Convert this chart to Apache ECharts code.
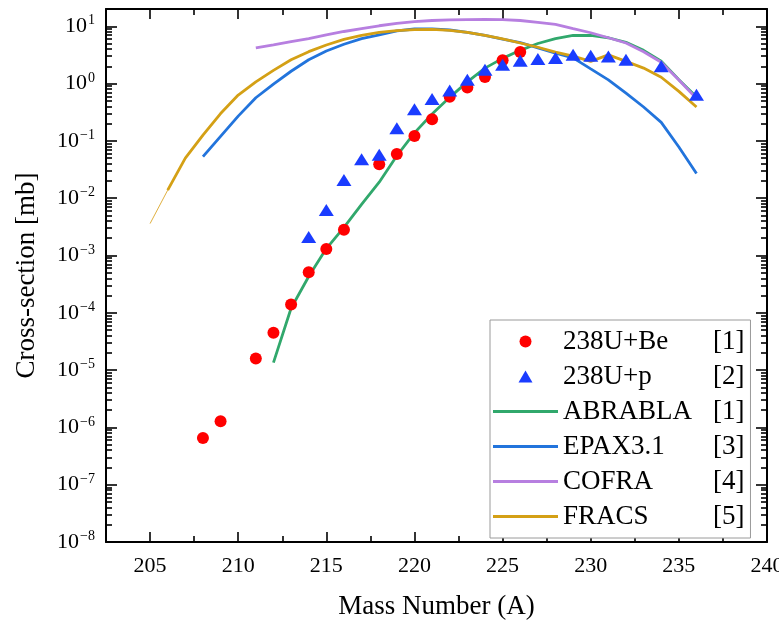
<!DOCTYPE html>
<html>
<head>
<meta charset="utf-8">
<script src="https://cdn.jsdelivr.net/npm/echarts@6/dist/echarts.min.js"></script>
<style>
html,body{margin:0;padding:0;background:#fff;}
#chart{width:779px;height:620px;}
</style>
</head>
<body>
<div id="chart"></div>
<script>
// ---- data ----
const beMass = [208, 209, 211, 212, 213, 214, 215, 216, 218, 219, 220, 221, 222, 223, 224, 225, 226];
const beXS   = [6.5e-7, 1.28e-6, 1.6e-5, 4.5e-5, 1.4e-4, 5.1e-4, 1.3e-3, 2.8e-3, 0.039, 0.059, 0.122, 0.239, 0.59, 0.855, 1.3, 2.54, 3.56];

const pMass = [214, 215, 216, 217, 218, 219, 220, 221, 222, 223, 224, 225, 226, 227, 228, 229, 230, 231, 232, 234, 236];
const pXS   = [2.1e-3, 6.2e-3, 0.0207, 0.048, 0.057, 0.166, 0.357, 0.535, 0.76, 1.16, 1.74, 2.13, 2.5, 2.69, 2.8, 3.19, 3.07, 2.98, 2.61, 2.0, 0.64];

const abraMass = [212, 213, 214, 215, 216, 217, 218, 219, 220, 221, 222, 223, 224, 225, 226, 227, 228, 229, 230, 231, 232, 233, 234, 235, 236];
const abraXS   = [1.35e-5, 1.2e-4, 4.3e-4, 1.32e-3, 3.1e-3, 7.8e-3, 0.019, 0.055, 0.138, 0.295, 0.575, 1.07, 1.86, 2.75, 3.8, 5.0, 6.1, 6.9, 6.9, 6.3, 5.25, 3.8, 2.45, 1.17, 0.58];

const epaxMass = [208, 209, 210, 211, 212, 213, 214, 215, 216, 217, 218, 219, 220, 221, 222, 223, 224, 225, 226, 227, 228, 229, 230, 231, 232, 233, 234, 235, 236];
const epaxXS   = [0.053, 0.12, 0.27, 0.565, 0.98, 1.64, 2.6, 3.7, 4.85, 6.1, 7.1, 8.3, 8.95, 9.0, 8.6, 7.85, 6.9, 5.95, 5.2, 4.2, 3.4, 2.8, 1.8, 1.16, 0.68, 0.39, 0.21, 0.078, 0.027];

const cofraMass = [211, 212, 213, 214, 215, 216, 217, 218, 219, 220, 221, 222, 223, 224, 225, 226, 227, 228, 229, 230, 231, 232, 233, 234, 235, 236];
const cofraXS   = [4.2, 4.75, 5.4, 6.1, 7.1, 8.1, 9.1, 10.2, 11.2, 12.0, 12.6, 12.9, 13.1, 13.2, 13.0, 12.6, 11.7, 10.8, 9.1, 7.7, 6.3, 5.1, 3.6, 2.35, 1.15, 0.55];

const fracsMass = [206, 207, 208, 209, 210, 211, 212, 213, 214, 215, 216, 217, 218, 219, 220, 221, 222, 223, 224, 225, 226, 227, 228, 229, 230, 231, 232, 233, 234, 235, 236];
const fracsXS   = [0.0138, 0.05, 0.126, 0.3, 0.63, 1.07, 1.7, 2.6, 3.6, 4.7, 5.9, 6.9, 7.8, 8.4, 8.7, 8.8, 8.5, 7.85, 6.9, 6.0, 5.1, 4.3, 3.55, 3.0, 2.44, 3.16, 2.44, 1.86, 1.29, 0.73, 0.39];
const fracsTailMass = [205, 206];
const fracsTailXS   = [3.6e-3, 0.0138];

const seriesNames = ['238U+Be', '238U+p', 'ABRABLA', 'EPAX3.1', 'COFRA', 'FRACS'];
const seriesRefs  = ['[1]', '[2]', '[1]', '[3]', '[4]', '[5]'];

const xMajorTicks = [205, 210, 215, 220, 225, 230, 235, 240];
const xMinorTicks = [207.5, 212.5, 217.5, 222.5, 227.5, 232.5, 237.5];
const yExponents  = [-8, -7, -6, -5, -4, -3, -2, -1, 0, 1];

// ---- build ----
const FONT = 'Liberation Serif';
const pairs = (xs, ys) => xs.map((x, i) => [x, ys[i]]);
const yMajor = yExponents.map(e => Math.pow(10, e));
const yMinor = [];
yExponents.forEach(e => { for (let k = 2; k <= 9; k++) { const v = k * Math.pow(10, e); if (v <= 20) yMinor.push(v); } });

function xAxisDef(pos, major) {
  return {
    type: 'value', min: 202.5, max: 240, position: pos,
    axisLine: { show: major, onZero: false, lineStyle: { color: '#000', width: 2 } },
    axisTick: { show: true, inside: true, length: major ? 10 : 6, customValues: major ? xMajorTicks : xMinorTicks,
                lineStyle: { color: '#000', width: 1.6 } },
    axisLabel: (major && pos === 'bottom') ? { show: true, customValues: xMajorTicks, color: '#000', fontFamily: FONT, fontSize: 22, margin: 13 } : { show: false },
    splitLine: { show: false },
    name: (major && pos === 'bottom') ? 'Mass Number (A)' : '',
    nameLocation: 'middle', nameGap: 51,
    nameTextStyle: { color: '#000', fontFamily: FONT, fontSize: 27 }
  };
}
function yAxisDef(pos, major) {
  return {
    type: 'log', logBase: 10, min: 1e-8, max: 20, position: pos,
    axisLine: { show: major, onZero: false, lineStyle: { color: '#000', width: 2 } },
    axisTick: { show: true, inside: true, length: major ? 11 : 6, customValues: major ? yMajor : yMinor,
                lineStyle: { color: '#000', width: 1.6 } },
    axisLabel: (major && pos === 'left') ? {
      show: true, customValues: yMajor, margin: 11, color: '#000',
      formatter: v => {
        const e = Math.round(Math.log10(v));
        const sup = e < 0 ? '\u2212' + (-e) : String(e);
        return '{b|10}{s|' + sup + '}';
      },
      rich: {
        b: { fontFamily: FONT, fontSize: 22, color: '#000', lineHeight: 24 },
        s: { fontFamily: FONT, fontSize: 14, color: '#000', lineHeight: 24, padding: [0, 0, 11, 1] }
      }
    } : { show: false },
    splitLine: { show: false },
    name: (major && pos === 'left') ? 'Cross-section [mb]' : '',
    nameLocation: 'middle', nameGap: 66,
    nameTextStyle: { color: '#000', fontFamily: FONT, fontSize: 27 }
  };
}

const LW = 2.8;
const lineSeries = (name, data, color) => ({
  name, type: 'line', data, symbol: 'none', smooth: false,
  lineStyle: { color, width: LW }, itemStyle: { color }, z: 2
});

const lineIcon = 'path://M0,0 L65,0 L65,3 L0,3 Z';
const legendIcons = ['circle', 'path://M7,0 L14,12 L0,12 Z', lineIcon, lineIcon, lineIcon, lineIcon];

const option = {
  animation: false,
  backgroundColor: '#fff',
  grid: { left: 106, right: 12, top: 9, bottom: 78, containLabel: false, outerBoundsMode: 'none' },
  xAxis: [xAxisDef('bottom', true), xAxisDef('bottom', false), xAxisDef('top', true), xAxisDef('top', false)],
  yAxis: [yAxisDef('left', true), yAxisDef('left', false), yAxisDef('right', true), yAxisDef('right', false)],
  legend: {
    data: seriesNames.map((n, i) => ({ name: n, icon: legendIcons[i] })),
    symbolKeepAspect: true,
    orient: 'vertical', left: 490, top: 320,
    padding: [8, 6, 8, 3],
    itemWidth: 65, itemHeight: 12, itemGap: 8,
    borderColor: '#9a9a9a', borderWidth: 1, backgroundColor: '#fff',
    formatter: name => '{n|' + name + '}{r|' + seriesRefs[seriesNames.indexOf(name)] + '}',
    textStyle: {
      color: '#000', fontFamily: FONT, fontSize: 27,
      rich: {
        n: { width: 150, color: '#000', fontFamily: FONT, fontSize: 27, lineHeight: 26 },
        r: { color: '#000', fontFamily: FONT, fontSize: 27, lineHeight: 26 }
      }
    }
  },
  series: [
    lineSeries('ABRABLA', pairs(abraMass, abraXS), '#31a86c'),
    lineSeries('EPAX3.1', pairs(epaxMass, epaxXS), '#2274dc'),
    lineSeries('COFRA', pairs(cofraMass, cofraXS), '#b77fe0'),
    lineSeries('FRACS', pairs(fracsMass, fracsXS), '#d4a015'),
    { name: 'FRACS-tail', type: 'line', data: pairs(fracsTailMass, fracsTailXS), symbol: 'none',
      lineStyle: { color: '#e0b040', width: 1 }, z: 2 },
    { name: '238U+Be', type: 'scatter', data: pairs(beMass, beXS), symbol: 'circle', symbolSize: 12,
      itemStyle: { color: '#ff0000', opacity: 1 }, z: 3 },
    { name: '238U+p', type: 'scatter', data: pairs(pMass, pXS), symbol: 'triangle', symbolSize: [15, 12],
      itemStyle: { color: '#1a3cff', opacity: 1 }, z: 4 }
  ]
};

const chart = echarts.init(document.getElementById('chart'), null, { renderer: 'canvas' });
chart.setOption(option);
</script>
</body>
</html>
